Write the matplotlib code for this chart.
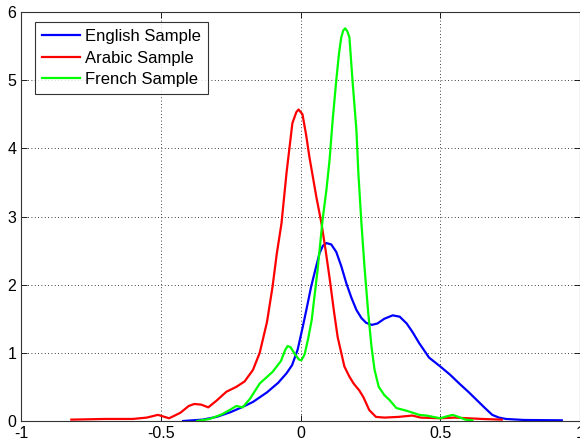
import matplotlib
matplotlib.use("Agg")
import matplotlib.pyplot as plt

english_x = [-0.42, -0.35, -0.30, -0.25, -0.20, -0.17, -0.12, -0.08, -0.05, -0.03, -0.01, 0.008, 0.022,
             0.038, 0.055, 0.068, 0.08, 0.093, 0.11, 0.128, 0.146, 0.164, 0.182, 0.20, 0.218, 0.235,
             0.255, 0.275, 0.30, 0.33, 0.355, 0.38, 0.40, 0.425, 0.46, 0.50, 0.535, 0.568, 0.60,
             0.63, 0.66, 0.686, 0.71, 0.735, 0.80, 0.935]
english_y = [0.0, 0.02, 0.06, 0.13, 0.22, 0.28, 0.42, 0.56, 0.70, 0.82, 1.05, 1.38, 1.65,
             1.97, 2.25, 2.46, 2.57, 2.61, 2.59, 2.48, 2.27, 2.02, 1.81, 1.63, 1.51, 1.44,
             1.41, 1.43, 1.50, 1.55, 1.53, 1.43, 1.31, 1.14, 0.93, 0.80, 0.68, 0.55, 0.43,
             0.31, 0.19, 0.09, 0.05, 0.03, 0.015, 0.01]

arabic_x = [-0.82, -0.70, -0.60, -0.55, -0.51, -0.47, -0.43, -0.40, -0.38, -0.355, -0.33, -0.30,
            -0.265, -0.23, -0.20, -0.17, -0.146, -0.135, -0.12, -0.10, -0.085, -0.068, -0.05,
            -0.029, -0.015, -0.007, 0.007, 0.02, 0.032, 0.057, 0.075, 0.09, 0.104, 0.12, 0.133,
            0.157, 0.175, 0.19, 0.21, 0.225, 0.246, 0.27, 0.30, 0.35, 0.40, 0.43, 0.50, 0.55,
            0.60, 0.65, 0.72]
arabic_y = [0.02, 0.03, 0.03, 0.05, 0.09, 0.04, 0.12, 0.22, 0.25, 0.24, 0.20, 0.30,
            0.43, 0.50, 0.58, 0.75, 1.0, 1.19, 1.45, 1.97, 2.45, 2.9, 3.64,
            4.37, 4.53, 4.57, 4.5, 4.2, 3.87, 3.28, 2.9, 2.5, 2.1, 1.6, 1.23,
            0.8, 0.65, 0.55, 0.45, 0.35, 0.16, 0.06, 0.05, 0.06, 0.08, 0.05, 0.04, 0.05,
            0.04, 0.03, 0.02]

french_x = [-0.37, -0.325, -0.28, -0.254, -0.23, -0.207, -0.18, -0.146, -0.10, -0.07, -0.055, -0.046,
            -0.035, -0.02, -0.005, 0.003, 0.015, 0.028, 0.04, 0.061, 0.079, 0.093, 0.104, 0.115,
            0.128, 0.138, 0.146, 0.153, 0.16, 0.167, 0.175, 0.186, 0.2, 0.207, 0.218, 0.229,
            0.242, 0.254, 0.265, 0.28, 0.30, 0.318, 0.343, 0.38, 0.425, 0.45, 0.50, 0.525,
            0.545, 0.565, 0.59, 0.615]
french_y = [0.0, 0.03, 0.10, 0.16, 0.22, 0.20, 0.33, 0.55, 0.72, 0.88, 1.04, 1.10,
            1.08, 0.98, 0.90, 0.89, 0.98, 1.22, 1.48, 2.21, 2.95, 3.40, 3.83, 4.41,
            5.0, 5.40, 5.63, 5.73, 5.76, 5.72, 5.63, 5.0, 4.27, 3.64, 2.9, 2.26,
            1.6, 1.09, 0.75, 0.50, 0.38, 0.31, 0.19, 0.15, 0.09, 0.08, 0.04, 0.07,
            0.09, 0.06, 0.02, 0.01]

labels = ["English Sample", "Arabic Sample", "French Sample"]
colors = ["#0000ff", "#ff0000", "#00ff00"]
x_ticks = [-1, -0.5, 0, 0.5, 1]
x_ticklabels = ["-1", "-0.5", "0", "0.5", "1"]
y_ticks = [0, 1, 2, 3, 4, 5, 6]

plt.rcParams['font.family'] = ['Liberation Sans', 'DejaVu Sans']

fig = plt.figure(figsize=(5.8, 4.44), dpi=100)
ax = fig.add_axes([21/580, 23/444, 559/580, 409/444])

for xs, ys, lab, c in zip([english_x, arabic_x, french_x], [english_y, arabic_y, french_y], labels, colors):
    ax.plot(xs, ys, color=c, lw=1.6, label=lab, solid_joinstyle='round')

ax.set_xlim(-1, 1)
ax.set_ylim(0, 6)
ax.set_xticks(x_ticks)
ax.set_xticklabels(x_ticklabels)
ax.set_yticks(y_ticks)
ax.grid(True, color='black', linestyle=(0, (1, 3)), linewidth=0.6)
ax.tick_params(direction='in', labelsize=11.5, length=4, width=0.6, top=True, right=True)
for s in ax.spines.values():
    s.set_linewidth(0.8)
    s.set_color('#333333')

leg = ax.legend(loc='upper left', fontsize=12, frameon=True, fancybox=False,
                edgecolor='black', handlelength=2.3, borderpad=0.4, labelspacing=0.4,
                handletextpad=0.3, borderaxespad=0, bbox_to_anchor=(0.025, 0.975))
leg.get_frame().set_linewidth(0.8)

fig.savefig("out.png", dpi=100)
